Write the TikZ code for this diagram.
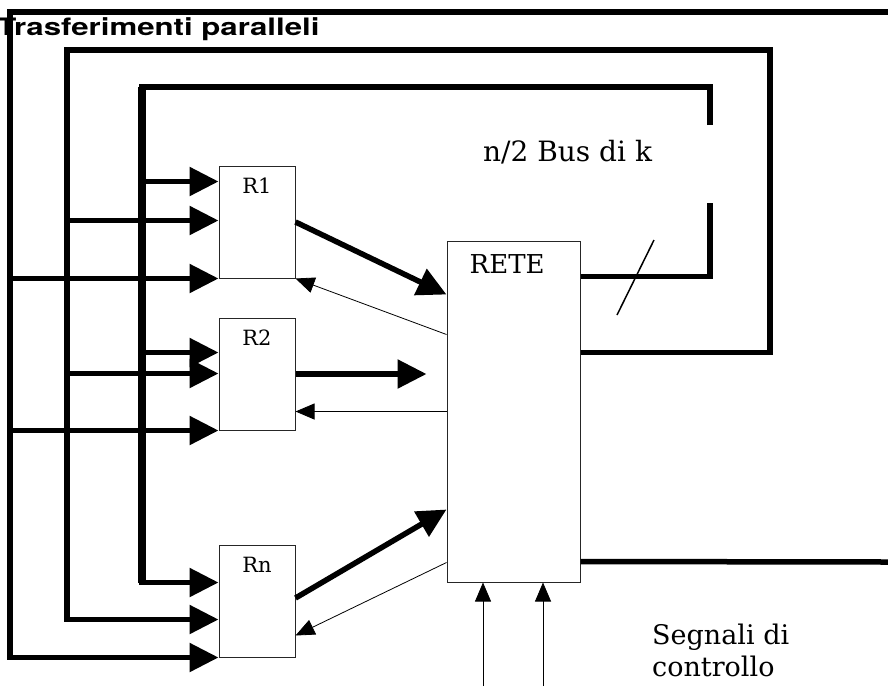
\documentclass[tikz,border=0pt]{standalone}
\usepackage{fontspec}
\setmainfont{DejaVu Serif}
\newfontfamily\headfont{TeX Gyre Heros}
\usetikzlibrary{arrows.meta, positioning, calc}

\begin{document}
\begin{tikzpicture}[x=1pt, y=-1pt,
    regbox/.style={rectangle, draw=black!85, line width=1pt, minimum width=76pt, minimum height=112pt, inner sep=0pt},
    retebox/.style={rectangle, draw=black!85, line width=1pt, minimum width=133pt, minimum height=341pt, inner sep=0pt},
    bus/.style={line width=5.5pt},
    fatbus/.style={line width=8pt},
    bigarr/.style={-{Triangle[length=29pt, width=28pt]}, line width=5.5pt},
    thinarr/.style={-{Triangle[length=19pt, width=16pt]}, line width=0.8pt},
    reglbl/.style={font=\fontsize{21}{25}\selectfont, inner sep=0pt, anchor=base},
    txtlbl/.style={font=\fontsize{28}{33}\selectfont, inner sep=0pt}
]
\useasboundingbox (0,0) rectangle (888,686);

% Title
\node[anchor=base west, inner sep=0pt, xscale=1.3, font=\headfont\bfseries\fontsize{24}{28}\selectfont] (title) at (-3,35) {Trasferimenti paralleli};

% Registers and network
\node[regbox] (r1) at (257,222) {};
\node[regbox] (r2) at (257,374) {};
\node[regbox] (rn) at (257,601) {};
\node[retebox] (rete) at (513.5,411.5) {};

% Labels
\node[reglbl] (r1lbl) at ([yshift=-28pt]r1.north) {R1};
\node[reglbl] (r2lbl) at ([yshift=-28pt]r2.north) {R2};
\node[reglbl] (rnlbl) at ([yshift=-28pt]rn.north) {Rn};
\node[txtlbl, anchor=base west, font=\fontsize{26}{31}\selectfont] (retelbl) at ([xshift=23pt, yshift=-33pt]rete.north west) {RETE};
\node[txtlbl, anchor=base west] (buslbl) at (483,161) {n/2 Bus di k};
\node[txtlbl, anchor=north west, align=left, font=\fontsize{27}{32}\selectfont] (ctllbl) at (652,624) {Segnali di\\controllo};

% Bus corners
\coordinate (topR) at (888,12);
\coordinate (busO) at (10,12);
\coordinate (busM) at (67,50);
\coordinate (busMr) at (770,50);
\coordinate (busI) at (142,87);
\coordinate (busIr) at (710,87);
\coordinate (gapT) at (710,125);
\coordinate (gapB) at (710,203);
\coordinate (outR) at (888,562);
\coordinate (ctl1) at (483,686);
\coordinate (ctl2) at (543,686);

% Register inputs
\coordinate (r1a) at ([yshift=-16pt]r1.north west);
\coordinate (r1b) at ([yshift=-55pt]r1.north west);
\coordinate (r2a) at ([yshift=-35pt]r2.north west);
\coordinate (r2b) at ([yshift=-56pt]r2.north west);
\coordinate (rna) at ([yshift=-38pt]rn.north west);
\coordinate (rnb) at ([yshift=-75pt]rn.north west);

% Outer bus
\draw[bigarr] (topR) -- (busO) |- (rn.south west);
\draw[bigarr] (busO |- r1.south west) -- (r1.south west);
\draw[bigarr] (busO |- r2.south west) -- (r2.south west);

% Middle bus
\draw[bigarr] ([yshift=-112pt]rete.north east) -| (busMr) -- (busM) |- (rnb);
\draw[bigarr] (busM |- r1b) -- (r1b);
\draw[bigarr] (busM |- r2b) -- (r2b);

% Inner bus
\draw[bus] ([yshift=-36pt]rete.north east) -| (gapB);
\draw[bigarr] (gapT) -- (busIr) -- (busI) |- (rna);
\draw[fatbus] (busI) -- (busI |- rna);
\draw[bigarr] (busI |- r1a) -- (r1a);
\draw[bigarr] (busI |- r2a) -- (r2a);
\draw[line width=1.5pt] (617,315) -- (654,240);

% Register outputs
\draw[bigarr] (r1.east) -- ([yshift=-54pt]rete.north west);
\draw[thinarr] ([yshift=-94pt]rete.north west) -- (r1.south east);
\draw[bigarr, shorten >=20pt] (r2.east) -- (r2.east -| rete.west);
\draw[thinarr] (rete.west) -- (rete.west -| r2.east);
\draw[bigarr] ([yshift=3pt]rn.east) -- ([yshift=-269pt]rete.north west);
\draw[thinarr] ([yshift=-322pt]rete.north west) -- ([yshift=22pt]rn.south east);

% Control signals and output
\draw[thinarr] (ctl1) -- (ctl1 |- rete.south);
\draw[thinarr] (ctl2) -- (ctl2 |- rete.south);
\draw[bus] ([yshift=-321pt]rete.north east) -- (outR);

\end{tikzpicture}
\end{document}
